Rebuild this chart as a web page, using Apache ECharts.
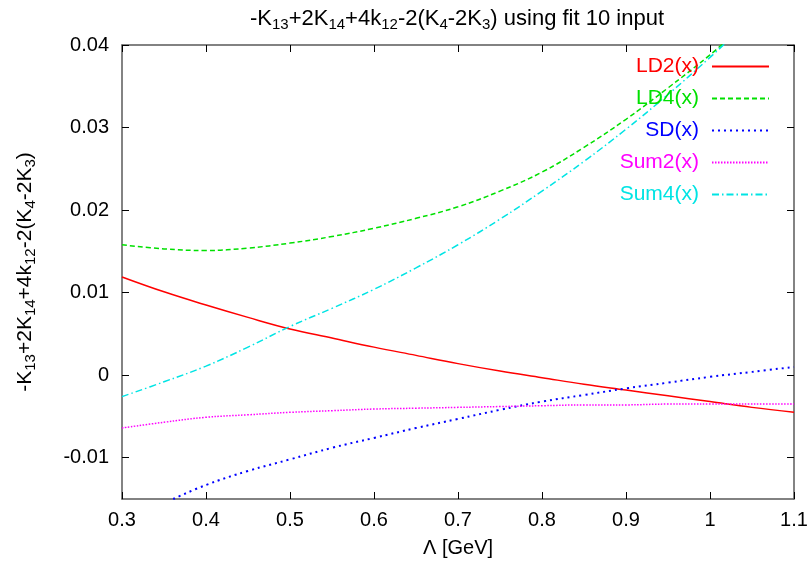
<!DOCTYPE html>
<html>
<head>
<meta charset="utf-8">
<script src="https://cdn.jsdelivr.net/npm/echarts@6/dist/echarts.min.js"></script>
<style>html,body{margin:0;padding:0;background:#fff}#c{width:811px;height:569px}</style>
</head>
<body>
<div id="c"></div>
<script>
const xTicks = [0.3, 0.4, 0.5, 0.6, 0.7, 0.8, 0.9, 1.0, 1.1];
const yTicks = [-0.01, 0, 0.01, 0.02, 0.03, 0.04];
const seriesNames = ['LD2(x)', 'LD4(x)', 'SD(x)', 'Sum2(x)', 'Sum4(x)'];

const ld2X = [0.3, 0.35, 0.4, 0.45, 0.5, 0.55, 0.6, 0.65, 0.7, 0.75, 0.8, 0.85, 0.9, 0.95, 1.0, 1.05, 1.1];
const ld2Y = [0.0119, 0.0101, 0.0085, 0.0070, 0.0056, 0.0045, 0.0034, 0.0024, 0.0014, 0.0005, -0.0003, -0.0011, -0.0018, -0.0025, -0.0032, -0.0039, -0.0045];

const ld4X = [0.3, 0.35, 0.4, 0.45, 0.5, 0.55, 0.6, 0.65, 0.7, 0.75, 0.8, 0.85, 0.9, 0.95, 1.0, 1.02];
const ld4Y = [0.0158, 0.0153, 0.0151, 0.0154, 0.0160, 0.0168, 0.0178, 0.0190, 0.0204, 0.0223, 0.0246, 0.0276, 0.0310, 0.0348, 0.0388, 0.0406];

const sdX = [0.361, 0.4, 0.45, 0.5, 0.55, 0.6, 0.65, 0.7, 0.75, 0.8, 0.85, 0.9, 0.95, 1.0, 1.05, 1.1];
const sdY = [-0.0150, -0.0133, -0.0116, -0.0102, -0.0088, -0.0076, -0.0064, -0.0053, -0.0042, -0.0032, -0.0024, -0.0016, -0.0009, -0.0002, 0.0004, 0.0010];

const sum2X = [0.3, 0.35, 0.4, 0.45, 0.5, 0.55, 0.6, 0.65, 0.7, 0.75, 0.8, 0.85, 0.9, 0.95, 1.0, 1.05, 1.1];
const sum2Y = [-0.0064, -0.0057, -0.0051, -0.0048, -0.0045, -0.0043, -0.0041, -0.0040, -0.0039, -0.0038, -0.0037, -0.0036, -0.0036, -0.0035, -0.0035, -0.0035, -0.0035];

const sum4X = [0.3, 0.35, 0.4, 0.45, 0.5, 0.55, 0.6, 0.65, 0.7, 0.75, 0.8, 0.85, 0.9, 0.95, 1.0, 1.02];
const sum4Y = [-0.0026, -0.0008, 0.0011, 0.0034, 0.0059, 0.0081, 0.0104, 0.0130, 0.0158, 0.0189, 0.0223, 0.0259, 0.0298, 0.0340, 0.0385, 0.0404];

const colors = ['#ff0000', '#00e000', '#0000ff', '#ff00ff', '#00e4e4'];
const lineTypes = ['solid', [5, 3], [2, 4], [1.5, 1.5], [7, 3, 1.5, 3]];
const widths = [1.5, 1.5, 2, 1.5, 1.5];

function pairs(xs, ys) { return xs.map((x, i) => [x, ys[i]]); }
const allData = [pairs(ld2X, ld2Y), pairs(ld4X, ld4Y), pairs(sdX, sdY), pairs(sum2X, sum2Y), pairs(sum4X, sum4Y)];

const FONT = '"Liberation Sans", Arial, sans-serif';
const AX = '#5a5a5a';
const chart = echarts.init(document.getElementById('c'), null, { renderer: 'canvas' });

function richStyles(mainSize, subSize) {
  return {
    m: { fontSize: mainSize, fontFamily: FONT, fontWeight: 'normal', color: '#000', lineHeight: mainSize + 5 },
    s: { fontSize: subSize, fontFamily: FONT, fontWeight: 'normal', color: '#000', verticalAlign: 'bottom', lineHeight: subSize }
  };
}

function axisLineStyle() {
  return { show: true, onZero: false, lineStyle: { color: AX, width: 1.5 } };
}
const tickStyle = { inside: true, length: 7, lineStyle: { color: '#000', width: 1 } };

chart.setOption({
  animation: false,
  backgroundColor: '#ffffff',
  title: {
    text: '{m|-K}{s|13}{m|+2K}{s|14}{m|+4k}{s|12}{m|-2(K}{s|4}{m|-2K}{s|3}{m|) using fit 10 input}',
    left: 452, textAlign: 'center', top: 0,
    textStyle: { fontWeight: 'normal', rich: richStyles(22, 15) }
  },
  legend: {
    orient: 'vertical', align: 'right', right: 41, top: 56, padding: 0,
    itemWidth: 57, itemHeight: 14, itemGap: 11,
    itemStyle: { opacity: 0 },
    textStyle: { fontSize: 21, fontFamily: FONT, lineHeight: 21, padding: [0, 8, 0, 0] },
    data: seriesNames.map((n, i) => ({ name: n, textStyle: { color: colors[i] } }))
  },
  grid: { left: 122, right: 17, top: 45, bottom: 70, containLabel: false },
  xAxis: [
    {
      type: 'value', min: 0.3, max: 1.1, position: 'bottom',
      name: 'Λ [GeV]', nameLocation: 'middle', nameGap: 39,
      nameTextStyle: { fontSize: 20, fontFamily: FONT, color: '#000' },
      axisLine: axisLineStyle(), splitLine: { show: false },
      axisTick: Object.assign({ customValues: xTicks }, tickStyle),
      axisLabel: { fontSize: 20, fontFamily: FONT, color: '#000', margin: 11, customValues: xTicks,
        formatter: v => String(+v.toFixed(2)) }
    },
    {
      type: 'value', min: 0.3, max: 1.1, position: 'top',
      axisLine: axisLineStyle(), splitLine: { show: false },
      axisTick: Object.assign({ customValues: xTicks }, tickStyle),
      axisLabel: { show: false }
    }
  ],
  yAxis: [
    {
      type: 'value', min: -0.015, max: 0.04, position: 'left',
      name: '{m|-K}{s|13}{m|+2K}{s|14}{m|+4k}{s|12}{m|-2(K}{s|4}{m|-2K}{s|3}{m|)}',
      nameLocation: 'middle', nameGap: 84, nameRotate: 90,
      nameTextStyle: { rich: richStyles(21, 15) },
      axisLine: axisLineStyle(), splitLine: { show: false },
      axisTick: Object.assign({ customValues: yTicks }, tickStyle),
      axisLabel: { fontSize: 20, fontFamily: FONT, color: '#000', margin: 13, customValues: yTicks,
        formatter: v => String(+v.toFixed(3)) }
    },
    {
      type: 'value', min: -0.015, max: 0.04, position: 'right',
      axisLine: axisLineStyle(), splitLine: { show: false },
      axisTick: Object.assign({ customValues: yTicks }, tickStyle),
      axisLabel: { show: false }
    }
  ],
  series: seriesNames.map((n, i) => ({
    name: n, type: 'line', data: allData[i], smooth: 0.4, symbol: 'none', clip: true,
    xAxisIndex: 0, yAxisIndex: 0,
    itemStyle: { color: colors[i] },
    lineStyle: { color: colors[i], width: widths[i], type: lineTypes[i] }
  }))
});
</script>
</body>
</html>
